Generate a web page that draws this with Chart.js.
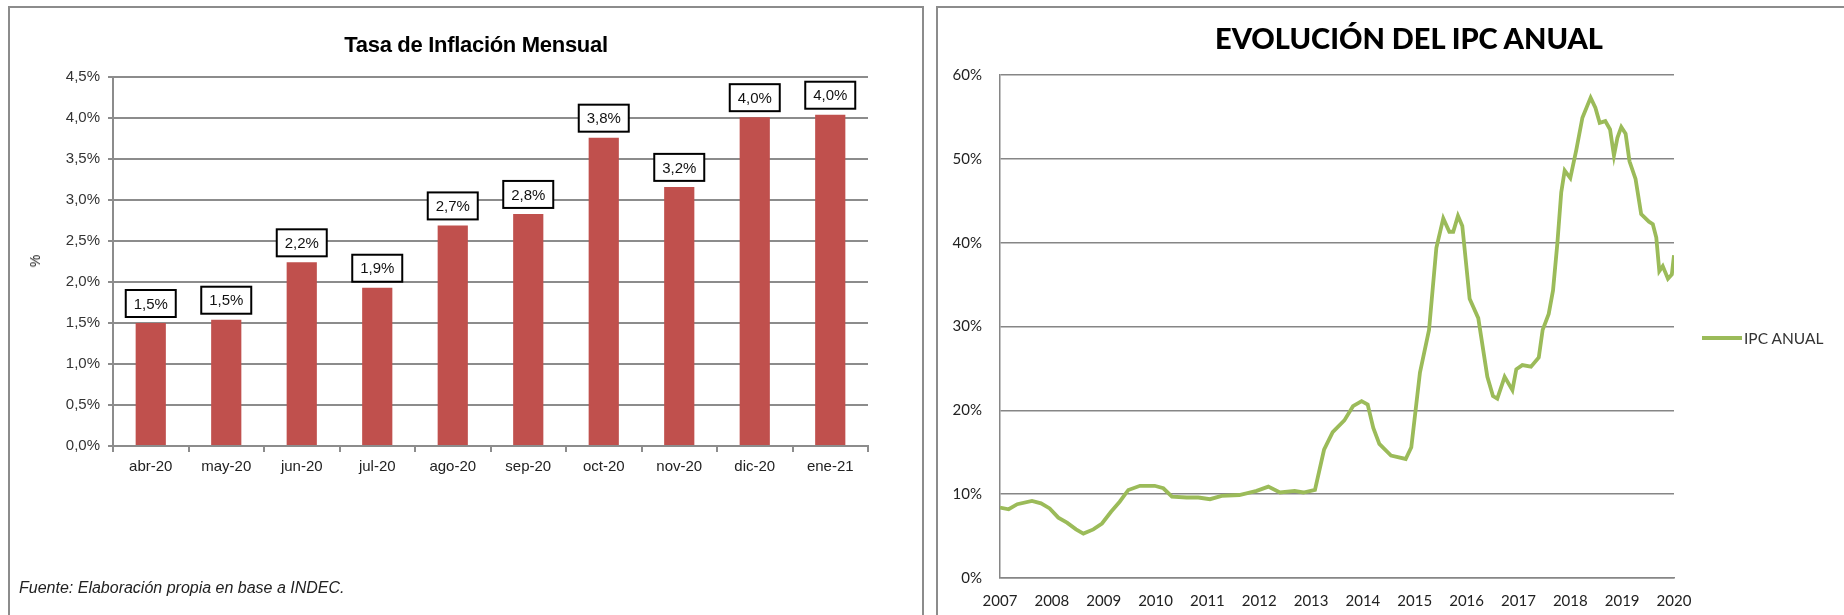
<!DOCTYPE html>
<html>
<head>
<meta charset="utf-8">
<title>Inflación</title>
<script src="https://cdn.jsdelivr.net/npm/chart.js@4.4.0/dist/chart.umd.min.js"></script>
<style>
body{margin:0;width:1844px;height:615px;overflow:hidden;background:#fff;position:relative;font-family:"Liberation Sans",Arial,sans-serif}
.panel{position:absolute;border:2px solid #8c8c8c}
#panelL{left:8px;top:6px;width:912px;height:700px}
#panelR{left:936px;top:6px;width:1000px;height:700px}
canvas{position:absolute;top:0}
#cvL{left:0}
#cvR{left:930px}
.txt{position:absolute;white-space:nowrap}
#tituloL{left:476px;top:45px;transform:translate(-50%,-50%);font-weight:bold;font-size:22px;color:#000;letter-spacing:-0.3px}
#ejeL{left:35px;top:261px;transform:translate(-50%,-50%) rotate(-90deg);font-size:14px;color:#222}
#fuente{left:19px;top:578px;font-size:16px;font-style:italic;color:#222;line-height:20px}
#tituloR{left:1409px;top:37px;transform:translate(-50%,-50%);font-family:Lato,sans-serif;font-weight:900;font-size:29px;color:#000}
#legLinea{position:absolute;left:1702px;top:336px;width:40px;height:4px;background:#9bbb59}
#legTxt{left:1744px;top:338px;transform:translateY(-50%);font-family:Lato,sans-serif;font-size:15.5px;color:#333}
</style>
</head>
<body>
<div class="panel" id="panelL"></div>
<div class="panel" id="panelR"></div>
<canvas id="cvL" width="930" height="615"></canvas>
<canvas id="cvR" width="914" height="615"></canvas>
<div class="txt" id="tituloL">Tasa de Inflación Mensual</div>
<div class="txt" id="ejeL">%</div>
<div class="txt" id="fuente">Fuente: Elaboración propia en base a INDEC.</div>
<div class="txt" id="tituloR">EVOLUCIÓN DEL IPC ANUAL</div>
<div id="legLinea"></div>
<div class="txt" id="legTxt">IPC ANUAL</div>
<script>
// tasa mensual (%)
const meses = ['abr-20','may-20','jun-20','jul-20','ago-20','sep-20','oct-20','nov-20','dic-20','ene-21'];
const tasaMensual = [1.50, 1.54, 2.24, 1.93, 2.69, 2.83, 3.76, 3.16, 4.01, 4.04];

// IPC anual: meses desde ene-2007 y valor (%)
const mesDesde2007 = [0,2,4,7.4,9.5,11.5,13.5,15.5,17.6,19.3,21.6,23.6,25.7,27.7,29.7,32.4,35.8,37.8,39.8,43.2,
  45.9,48.6,51.3,55.4,59.4,62.1,64.8,68.2,70.2,72.9,75,77,79.7,81.7,83.7,85.1,86.4,87.8,90.5,93.9,
  95.2,97.2,99.3,101,102.6,104,104.9,106,107,108.7,110.7,112.8,114.1,115.1,116.8,118.6,119.5,120.9,122.9,124.7,
  125.6,127,128,129,129.9,130.7,132,133.4,134.8,136.7,137.8,138.8,140.1,141.2,142.1,142.9,143.8,144.8,145.7,147.1,
  148.4,150.2,151.1,151.9,152.6,153.4,154.6,155.5,156];
const ipcAnual = [8.4,8.2,8.8,9.2,8.9,8.3,7.2,6.6,5.8,5.3,5.8,6.5,7.9,9.1,10.5,11.0,11.0,10.7,9.7,9.6,
  9.6,9.4,9.8,9.9,10.4,10.9,10.2,10.4,10.2,10.5,15.3,17.4,18.8,20.5,21.1,20.7,17.9,16.0,14.6,14.2,
  15.6,24.5,29.6,39.4,42.9,41.3,41.3,43.2,42.0,33.3,31.0,24.0,21.7,21.4,24.0,22.4,24.9,25.4,25.2,26.3,
  29.6,31.5,34.3,39.9,46.0,48.6,47.7,51.1,54.9,57.3,56.1,54.3,54.5,53.5,50.4,52.5,53.8,53.0,49.7,47.6,
  43.4,42.5,42.2,40.6,36.6,37.2,35.7,36.2,38.5];
const anios = ['2007','2008','2009','2010','2011','2012','2013','2014','2015','2016','2017','2018','2019','2020'];

const gris = '#8c8c8c';
const coma = v => v.toFixed(1).replace('.', ',') + '%';

// cajitas con el valor arriba de cada barra
const etiquetas = {
  id: 'etiquetas',
  afterDatasetsDraw(chart) {
    const ctx = chart.ctx;
    ctx.save();
    ctx.font = '15px "Liberation Sans", Arial';
    ctx.textAlign = 'center';
    ctx.textBaseline = 'middle';
    chart.getDatasetMeta(0).data.forEach((bar, i) => {
      const w = 50, h = 27;
      const x = bar.x - w / 2, y = bar.y - 6 - h;
      ctx.fillStyle = '#fff';
      ctx.fillRect(x, y, w, h);
      ctx.lineWidth = 2;
      ctx.strokeStyle = '#000';
      ctx.strokeRect(x, y, w, h);
      ctx.fillStyle = '#111';
      ctx.fillText(coma(tasaMensual[i]), bar.x, y + h / 2 + 1);
    });
    ctx.restore();
  }
};

new Chart(document.getElementById('cvL'), {
  type: 'bar',
  data: {
    labels: meses,
    datasets: [{ data: tasaMensual, backgroundColor: '#c0504d', categoryPercentage: 1, barPercentage: 0.4 }]
  },
  options: {
    responsive: false, animation: false, devicePixelRatio: 1,
    layout: { padding: { left: 0, top: 77, right: 62, bottom: 129 } },
    plugins: { legend: { display: false }, tooltip: { enabled: false } },
    scales: {
      x: {
        afterFit: s => { s.height = 40; },
        grid: { display: true, drawOnChartArea: false, drawTicks: true, tickLength: 6, color: gris, lineWidth: 2, offset: true },
        border: { color: gris, width: 2 },
        ticks: { color: '#222', font: { family: '"Liberation Sans", Arial', size: 15 }, padding: 6, maxRotation: 0 }
      },
      y: {
        min: 0, max: 4.5,
        afterFit: s => { s.width = 113; },
        grid: { color: gris, lineWidth: 2, drawTicks: true, tickLength: 5 },
        border: { color: gris, width: 2 },
        ticks: { stepSize: 0.5, callback: v => coma(v), color: '#333', font: { family: '"Liberation Sans", Arial', size: 15 }, padding: 8 }
      }
    }
  },
  plugins: [etiquetas]
});

new Chart(document.getElementById('cvR'), {
  type: 'line',
  data: {
    datasets: [{
      label: 'IPC ANUAL',
      data: mesDesde2007.map((m, i) => ({ x: m, y: ipcAnual[i] })),
      borderColor: '#9bbb59', borderWidth: 3.8, pointRadius: 0, tension: 0, fill: false
    }]
  },
  options: {
    responsive: false, animation: false, devicePixelRatio: 1,
    layout: { padding: { left: 0, top: 75, right: 170, bottom: 0 } },
    plugins: { legend: { display: false }, tooltip: { enabled: false } },
    scales: {
      x: {
        type: 'linear', min: 0, max: 156,
        afterFit: s => { s.height = 37; },
        grid: { display: false },
        border: { color: '#868686', width: 1.5 },
        ticks: { stepSize: 12, autoSkip: false, maxRotation: 0, callback: v => anios[v / 12], color: '#222', font: { family: 'Lato', size: 15 }, padding: 6 }
      },
      y: {
        min: 0, max: 60,
        afterFit: s => { s.width = 70; },
        grid: { color: '#868686', lineWidth: 1.5, drawTicks: false },
        border: { color: '#868686', width: 1.5 },
        ticks: { stepSize: 10, callback: v => v + '%', color: '#222', font: { family: 'Lato', size: 15 }, padding: 18 }
      }
    }
  }
});
</script>
</body>
</html>
